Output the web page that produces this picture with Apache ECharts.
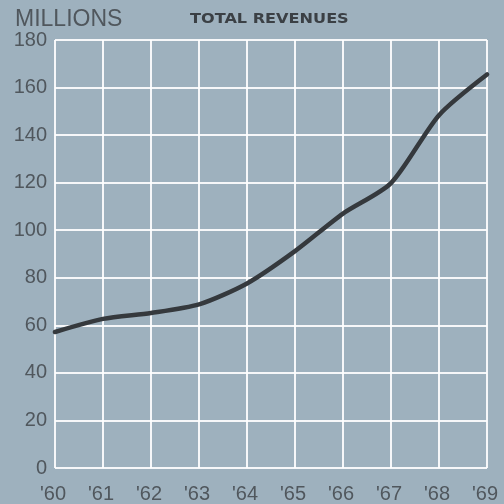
<!DOCTYPE html>
<html>
<head>
<meta charset="utf-8">
<style>
  html, body { margin: 0; padding: 0; background: #9eb1be; }
  #chart { width: 504px; height: 504px; }
</style>
<script src="https://cdn.jsdelivr.net/npm/echarts@6/dist/echarts.min.js"></script>
</head>
<body>
<div id="chart"></div>
<script>
// Annual total revenues, in millions
const years = ["'60", "'61", "'62", "'63", "'64", "'65", "'66", "'67", "'68", "'69"];
const revenues = [57.2, 62.7, 65.2, 68.8, 77.6, 91.2, 107, 119.8, 148.4, 165.5];
const yTicks = { min: 0, max: 180, step: 20 };

const chart = echarts.init(document.getElementById('chart'), null, { renderer: 'canvas' });
const labelFont = '"Liberation Sans", Arial, sans-serif';
const labelColor = '#50575d';

chart.setOption({
  backgroundColor: '#9eb1be',
  animation: false,
  grid: { left: 55, right: 17, top: 40, bottom: 36, containLabel: false },
  xAxis: {
    type: 'category',
    data: years,
    boundaryGap: false,
    axisLine: { show: false },
    axisTick: { show: false },
    axisLabel: {
      color: labelColor, fontSize: 20, fontFamily: labelFont,
      margin: 16, padding: [0, 4, 0, 0]
    },
    splitLine: { show: true, lineStyle: { color: 'rgba(255,255,255,0.9)', width: 2 } }
  },
  yAxis: {
    type: 'value',
    min: yTicks.min,
    max: yTicks.max,
    interval: yTicks.step,
    axisLine: { show: false },
    axisTick: { show: false },
    axisLabel: { color: labelColor, fontSize: 20, fontFamily: labelFont, margin: 8 },
    splitLine: { show: true, lineStyle: { color: 'rgba(255,255,255,0.9)', width: 2 } }
  },
  graphic: [
    {
      type: 'text', left: 15, top: 8,
      style: { text: 'MILLIONS', fill: labelColor, font: '23px ' + labelFont }
    },
    {
      type: 'text', x: 190, y: 12, scaleX: 1.15,
      style: { text: 'TOTAL REVENUES', fill: '#3b4045', font: 'bold 14px "DejaVu Sans", sans-serif' }
    }
  ],
  series: [{
    type: 'line',
    data: revenues,
    symbol: 'none',
    smooth: 0.25,
    lineStyle: { color: '#35393d', width: 4.5, cap: 'round', join: 'round' }
  }]
});
</script>
</body>
</html>
